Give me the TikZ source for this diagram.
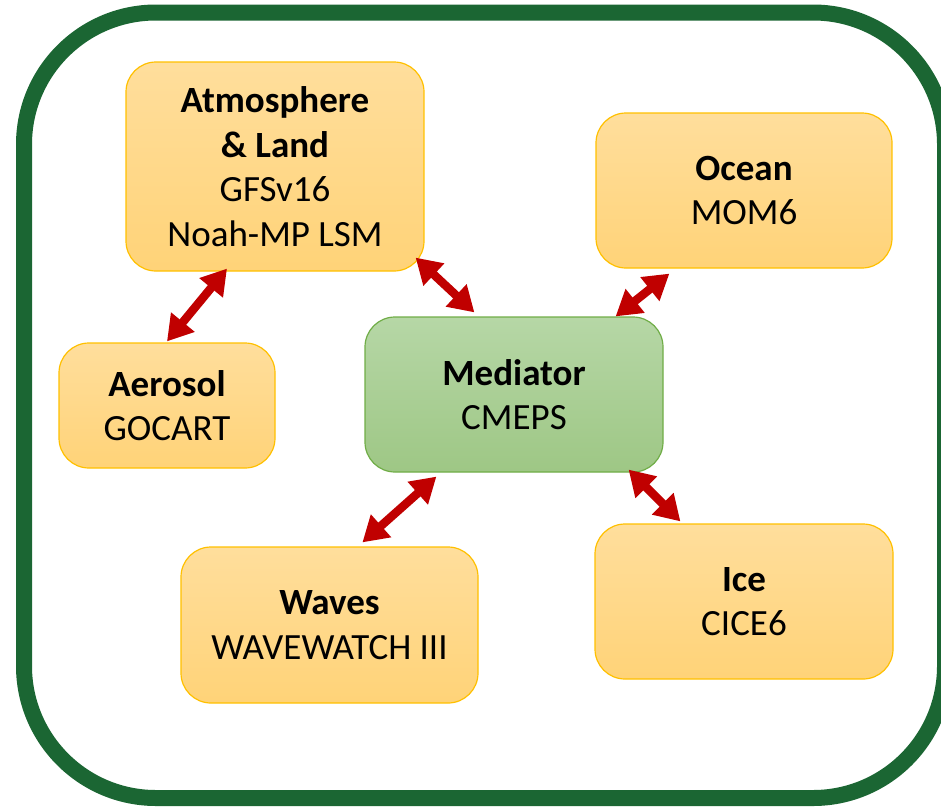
\documentclass[tikz,border=0pt]{standalone}
\usepackage{fontspec}
\setmainfont{Carlito}
\usetikzlibrary{arrows.meta,calc}
\definecolor{framegreen}{RGB}{27,102,51}
\definecolor{boxtop}{RGB}{255,222,156}
\definecolor{boxbot}{RGB}{255,211,120}
\definecolor{boxline}{RGB}{255,192,0}
\definecolor{medtop}{RGB}{182,215,166}
\definecolor{medbot}{RGB}{158,199,133}
\definecolor{medline}{RGB}{112,173,71}
\definecolor{arrred}{RGB}{192,0,0}
\tikzset{
  compbox/.style={draw=boxline, line width=1.2pt, rounded corners=30pt,
    top color=boxtop, bottom color=boxbot, inner sep=0pt, align=center,
    font=\fontsize{37}{44.5}\selectfont},
  medbox/.style={compbox, draw=medline, top color=medtop, bottom color=medbot},
  link/.style={draw=arrred, line width=8.5pt,
    {Triangle[length=25pt,width=29pt]}-{Triangle[length=25pt,width=29pt]}}
}
\begin{document}
\begin{tikzpicture}[x=1pt,y=-1pt]
\useasboundingbox (0,0) rectangle (941,806);
\begin{scope}
\clip (0,0) rectangle (941,806);
\draw[framegreen, line width=16pt, rounded corners=132pt] (24,12.5) rectangle (945,798);
\end{scope}

\node[compbox, minimum width=298pt, minimum height=209pt] (atm) at (275,166.5)
  {\textbf{Atmosphere}\\\textbf{\& Land}\\GFSv16\\Noah-MP LSM};
\node[compbox, minimum width=296pt, minimum height=155pt] (ocean) at (744,190.5)
  {\textbf{Ocean}\\MOM6};
\node[compbox, minimum width=216pt, minimum height=125pt] (aer) at (167,405.5)
  {\textbf{Aerosol}\\GOCART};
\node[medbox, minimum width=298pt, minimum height=155pt] (med) at (514,394.5)
  {\textbf{Mediator}\\CMEPS};
\node[compbox, minimum width=297pt, minimum height=156pt] (waves) at (329.5,625)
  {\textbf{Waves}\\WAVEWATCH III};
\node[compbox, minimum width=298pt, minimum height=155pt] (ice) at (744,601.5)
  {\textbf{Ice}\\CICE6};

% arrow end points
\coordinate (a1) at ($(atm.south)+(-48,-3)$);
\coordinate (a2) at ($(aer.north)+(0,-1)$);
\coordinate (b1) at ($(atm.south east)+(-9,-14)$);
\coordinate (b2) at ($(med.north west)+(110,-4)$);
\coordinate (c1) at ($(ocean.south west)+(74,5)$);
\coordinate (c2) at ($(med.north east)+(-48,0)$);
\coordinate (d1) at ($(med.south west)+(72,4)$);
\coordinate (d2) at ($(waves.north west)+(182,-4)$);
\coordinate (e1) at ($(med.south east)+(-35,-3)$);
\coordinate (e2) at ($(ice.north west)+(86,-2)$);

\draw[link] (a1) -- (a2);
\draw[link] (b1) -- (b2);
\draw[link] (c1) -- (c2);
\draw[link] (d1) -- (d2);
\draw[link] (e1) -- (e2);
\end{tikzpicture}
\end{document}
